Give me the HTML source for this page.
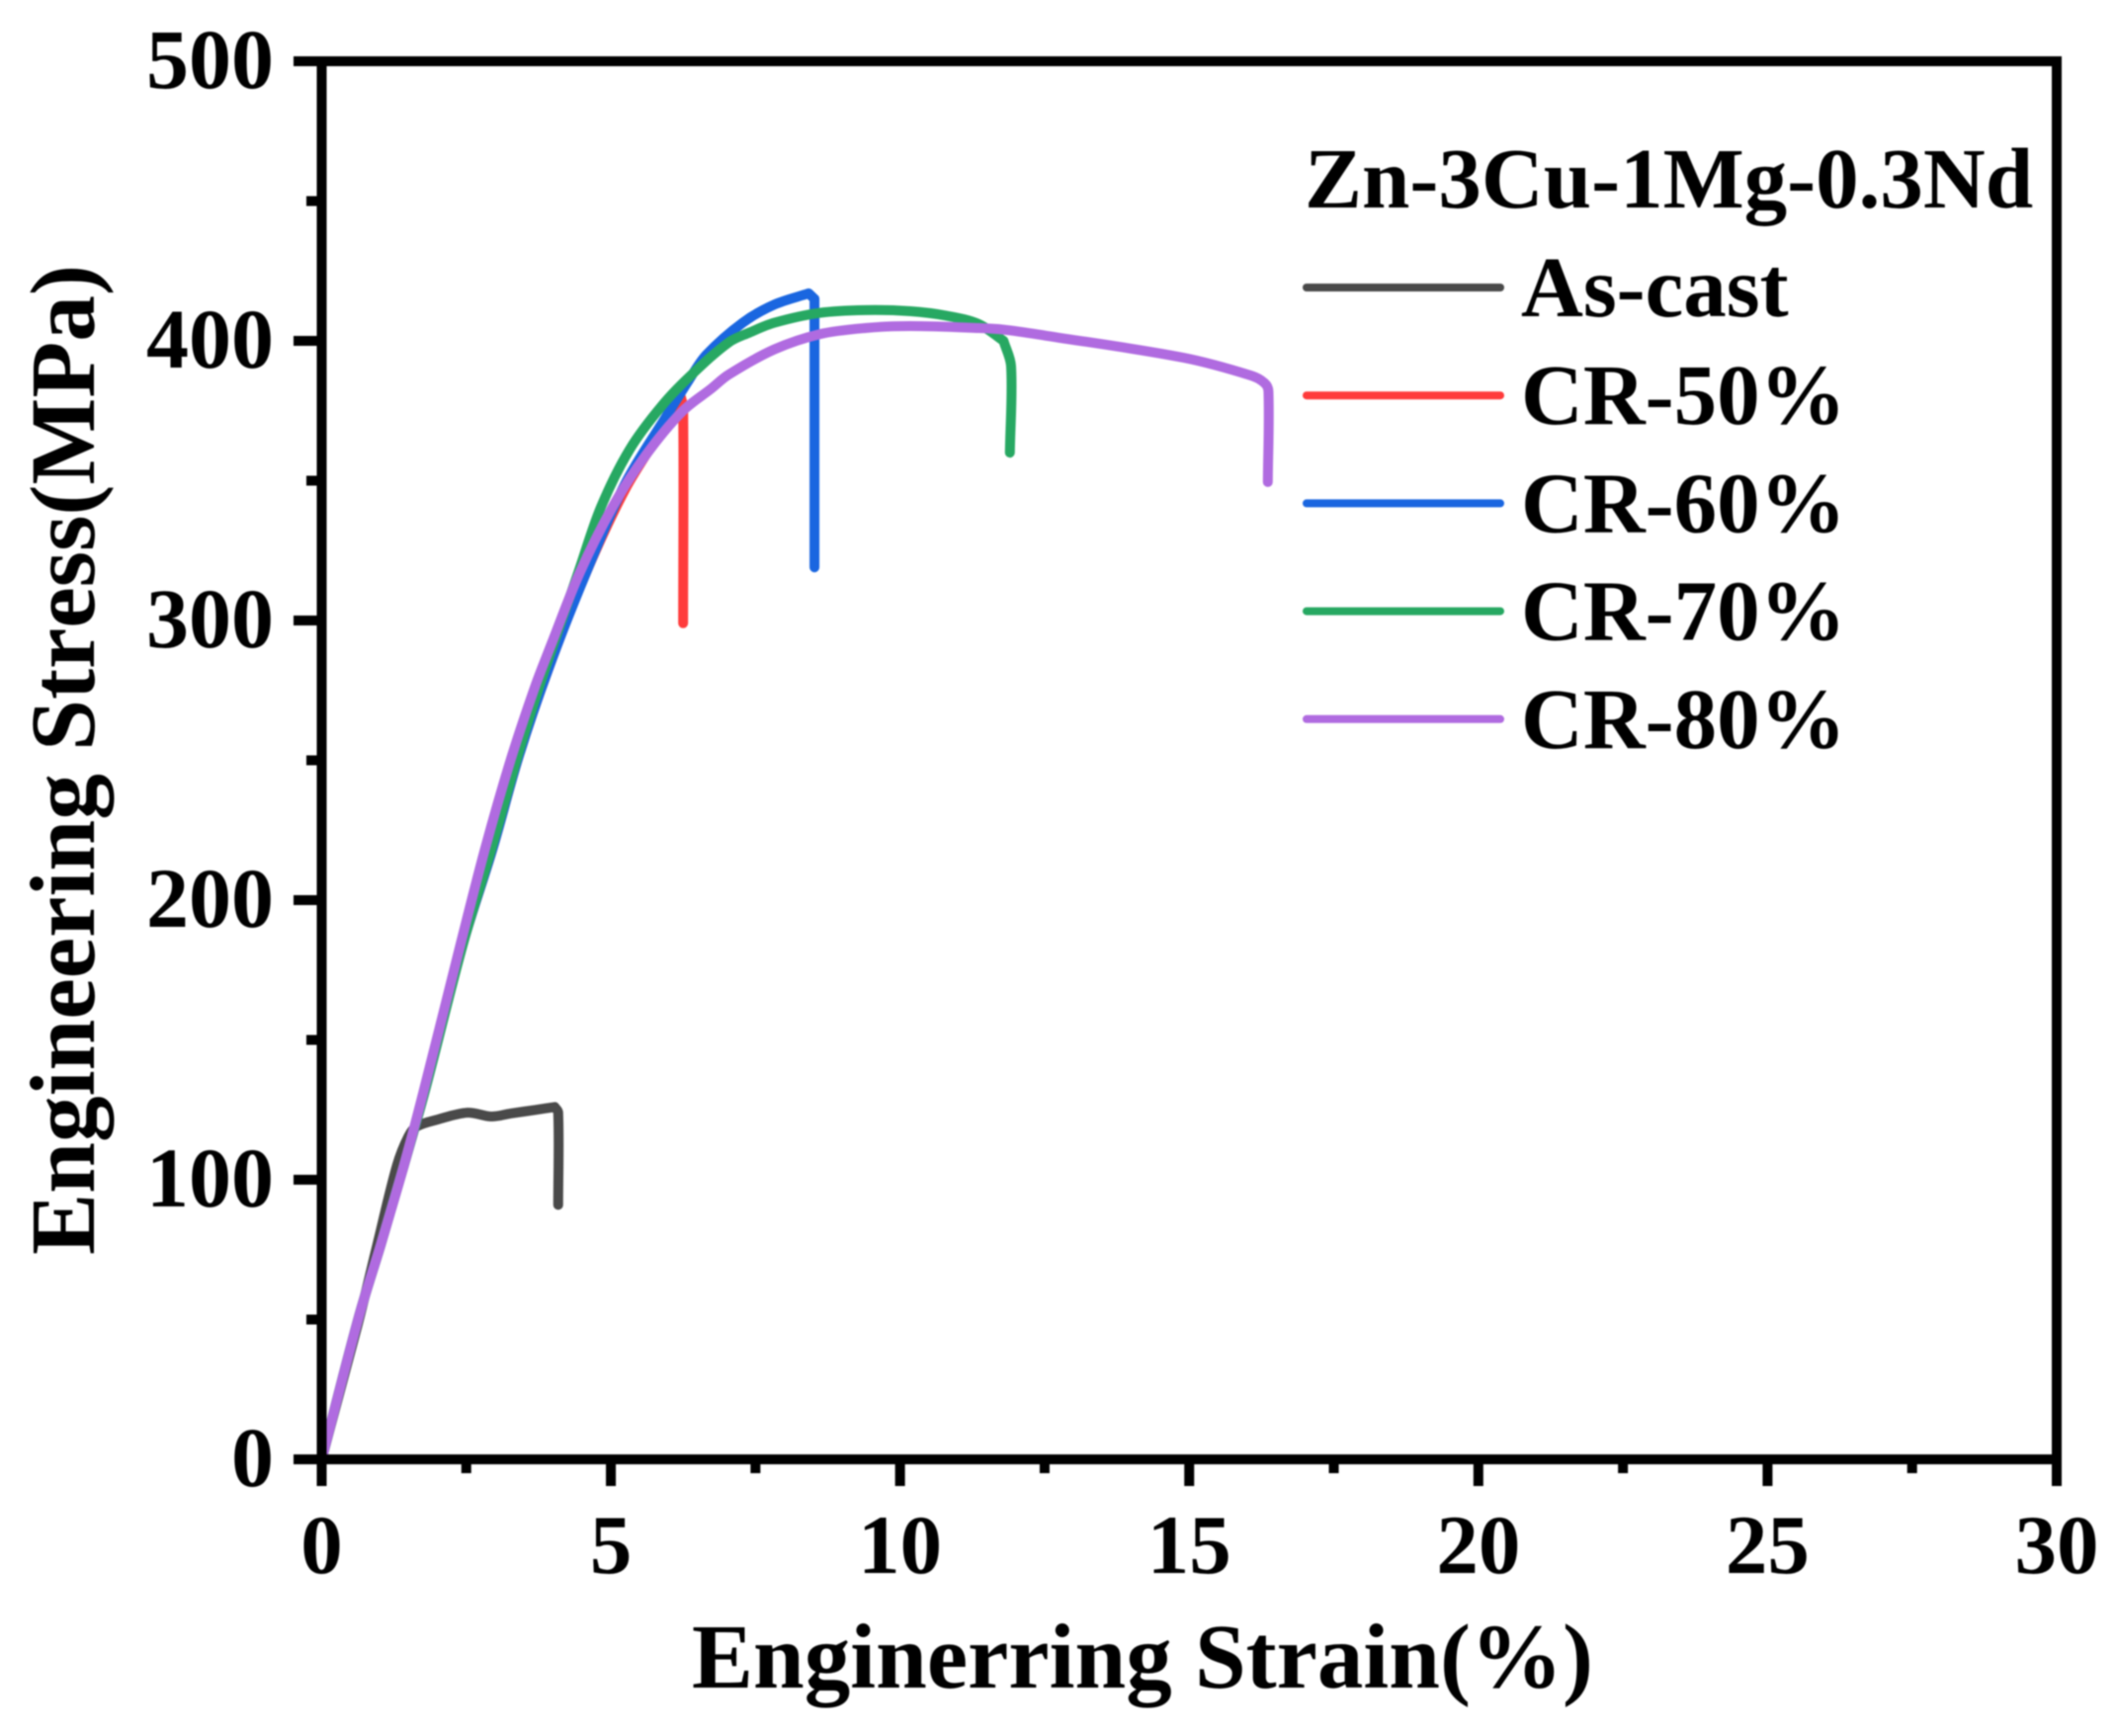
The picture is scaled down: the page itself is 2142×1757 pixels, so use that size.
<!DOCTYPE html>
<html lang="en">
<head>
<meta charset="utf-8">
<title>Engineering stress-strain curves</title>
<style>
html,body{margin:0;padding:0;background:#fff;}
svg{display:block;filter:blur(0.9px);}
text{font-family:"Liberation Serif",serif;font-weight:bold;fill:#000;font-kerning:none;}
</style>
</head>
<body>
<svg id="chart" xmlns="http://www.w3.org/2000/svg" width="2142" height="1757" viewBox="0 0 2142 1757">
  <rect width="2142" height="1757" fill="#fff"/>
  <g id="curves"></g>
  <g id="axes"></g>
  <g id="legend"></g>
  <text x="700" y="1708" font-size="93">Enginerring Strain(%)</text>
  <text transform="translate(95,1270) rotate(-90)" font-size="93" textLength="1002" lengthAdjust="spacingAndGlyphs">Engineering Stress(MPa)</text>
</svg>
<script>
const xTickLabels = [0, 5, 10, 15, 20, 25, 30];
const yTickLabels = [0, 100, 200, 300, 400, 500];
const xMinorTicks = [2.5, 7.5, 12.5, 17.5, 22.5, 27.5];
const yMinorTicks = [50, 150, 250, 350, 450];

const seriesNames = ["As-cast", "CR-50%", "CR-60%", "CR-70%", "CR-80%"];
const seriesColors = ["#4a4a4a", "#ff3b3b", "#1a66e0", "#27a862", "#b06be0"];

const asCastStrain = [0, 0.62, 0.96, 1.3, 1.5, 1.64, 2.0, 2.52, 2.93, 3.27, 3.7, 4.03, 4.09, 4.09];
const asCastStress = [0, 48, 76.7, 105, 115.5, 119, 121.5, 124, 122.6, 123.7, 125, 126, 124, 91];

const cr50Strain = [0, 0.64, 1.02, 1.42, 1.8, 2.45, 2.95, 3.4, 3.92, 4.57, 5.25, 5.94, 6.15, 6.21, 6.25, 6.25];
const cr50Stress = [0, 50.9, 76.7, 105, 133, 185, 218, 251, 282.7, 317, 347, 370, 378, 380, 376, 299];

const cr60Strain = [0, 0.64, 1.02, 1.42, 1.8, 2.45, 2.95, 3.4, 3.92, 4.57, 5.25, 5.94, 6.35, 6.65, 7.28, 7.83, 8.42, 8.52, 8.52];
const cr60Stress = [0, 50.9, 76.7, 105, 133, 185, 218, 251, 282.7, 317, 349, 372.4, 386, 395, 406.5, 413, 417, 415, 319];

const cr70Strain = [0, 0.64, 1.02, 1.42, 1.8, 2.45, 2.93, 3.38, 3.75, 4.1, 4.45, 4.83, 5.32, 5.89, 6.4, 7.04, 7.4, 7.83, 8.61, 9.4, 10.18, 10.8, 11.36, 11.79, 11.92, 11.9];
const cr70Stress = [0, 50.9, 76.7, 105, 133, 185, 218, 251, 275.6, 297, 318, 340.6, 361, 377, 388, 399.5, 403, 406.5, 410, 411, 410.6, 409, 406, 400, 391, 360];

const cr80Strain = [0, 0.64, 1.02, 1.42, 1.75, 2.41, 2.82, 3.28, 3.7, 3.98, 4.46, 5.03, 5.6, 6.23, 6.74, 7.04, 7.83, 8.61, 9.4, 10.18, 11.36, 11.8, 12.54, 14.9, 16.07, 16.3, 16.37, 16.36];
const cr80Stress = [0, 50.9, 76.7, 105, 130.7, 185, 218, 251, 277, 292, 317, 340.6, 359, 374.7, 383, 388, 397, 402.4, 404.6, 405.3, 404.6, 404, 401.8, 394, 387.6, 385, 382, 349.5];

const strainSeries = [asCastStrain, cr50Strain, cr60Strain, cr70Strain, cr80Strain];
const stressSeries = [asCastStress, cr50Stress, cr60Stress, cr70Stress, cr80Stress];

const NS = "http://www.w3.org/2000/svg";
const plot = {left: 325.5, right: 2081, top: 62, bottom: 1477};
function xScale(v) { return plot.left + (v / 30) * (plot.right - plot.left); }
function yScale(v) { return plot.bottom - (v / 500) * (plot.bottom - plot.top); }
function make(tag, attrs, parent) {
  const el = document.createElementNS(NS, tag);
  for (const k in attrs) el.setAttribute(k, attrs[k]);
  parent.appendChild(el);
  return el;
}
function unit(a, b) {
  const dx = b[0] - a[0], dy = b[1] - a[1];
  const d = Math.hypot(dx, dy) || 1;
  return [dx / d, dy / d, d];
}
/* smooth path through the scaled points; sharp turns stay as corners */
function smoothPath(pts) {
  function tangent(i, fallback) {
    if (i <= 0 || i >= pts.length - 1) return fallback;
    const u1 = unit(pts[i - 1], pts[i]), u2 = unit(pts[i], pts[i + 1]);
    if (u1[0] * u2[0] + u1[1] * u2[1] < 0.8) return fallback;
    const m = unit(pts[i - 1], pts[i + 1]);
    return [m[0], m[1]];
  }
  let d = "M" + pts[0][0].toFixed(1) + " " + pts[0][1].toFixed(1);
  for (let i = 0; i < pts.length - 1; i++) {
    const seg = unit(pts[i], pts[i + 1]);
    const t1 = tangent(i, seg), t2 = tangent(i + 1, seg);
    const h = seg[2] / 3;
    d += " C" + (pts[i][0] + t1[0] * h).toFixed(1) + " " + (pts[i][1] + t1[1] * h).toFixed(1) +
         " " + (pts[i + 1][0] - t2[0] * h).toFixed(1) + " " + (pts[i + 1][1] - t2[1] * h).toFixed(1) +
         " " + pts[i + 1][0].toFixed(1) + " " + pts[i + 1][1].toFixed(1);
  }
  return d;
}

const curves = document.getElementById("curves");
const axes = document.getElementById("axes");
const legend = document.getElementById("legend");

/* axes */
const axW = 10;
const frame = [
  [plot.left, plot.top, plot.right, plot.top, "top-axis-line"],
  [plot.right, plot.top, plot.right, plot.bottom, "right-axis-line"],
  [plot.left, plot.bottom, plot.right, plot.bottom, "x-axis-line"],
  [plot.left, plot.top, plot.left, plot.bottom, "y-axis-line"]
];
frame.forEach(function (f) {
  const ln = make("line", {x1: f[0], y1: f[1], x2: f[2], y2: f[3], stroke: "#000", "stroke-width": axW, "stroke-linecap": "square"}, axes);
  
  
});

xTickLabels.forEach(function (v) {
  const x = xScale(v);
  const t = make("line", {x1: x, y1: plot.bottom, x2: x, y2: 1504, stroke: "#000", "stroke-width": 10}, axes);
  
  
  const l = make("text", {x: x, y: 1592, "font-size": 85, "text-anchor": "middle"}, axes);
  
  
  l.textContent = v;
});
xMinorTicks.forEach(function (v) {
  const x = xScale(v);
  const t = make("line", {x1: x, y1: plot.bottom, x2: x, y2: 1491, stroke: "#000", "stroke-width": 10}, axes);
  
  
});
yTickLabels.forEach(function (v) {
  const y = yScale(v);
  const t = make("line", {x1: 297, y1: y, x2: plot.left, y2: y, stroke: "#000", "stroke-width": 10}, axes);
  
  
  const l = make("text", {x: 277, y: y + 27, "font-size": 86, "text-anchor": "end"}, axes);
  
  
  l.textContent = v;
});
yMinorTicks.forEach(function (v) {
  const y = yScale(v);
  const t = make("line", {x1: 310, y1: y, x2: plot.left, y2: y, stroke: "#000", "stroke-width": 10}, axes);
  
  
});

/* series */
seriesNames.forEach(function (name, i) {
  const pts = strainSeries[i].map(function (s, j) {
    return [xScale(s), yScale(stressSeries[i][j])];
  });
  const p = make("path", {d: smoothPath(pts), fill: "none", stroke: seriesColors[i], "stroke-width": 10, "stroke-linejoin": "round", "stroke-linecap": "round"}, curves);
  
  
});

/* legend */
const legTitle = make("text", {x: 1320, y: 210, "font-size": 87}, legend);


legTitle.textContent = "Zn-3Cu-1Mg-0.3Nd";
const legStart = 291, legStep = 109.2;
seriesNames.forEach(function (name, i) {
  const y = legStart + i * legStep;
  const sw = make("line", {x1: 1322, y1: y, x2: 1518, y2: y, stroke: seriesColors[i], "stroke-width": 8, "stroke-linecap": "round"}, legend);
  
  
  const tx = make("text", {x: 1539, y: y + 29, "font-size": 87}, legend);
  
  
  tx.textContent = name;
});
</script>
</body>
</html>
